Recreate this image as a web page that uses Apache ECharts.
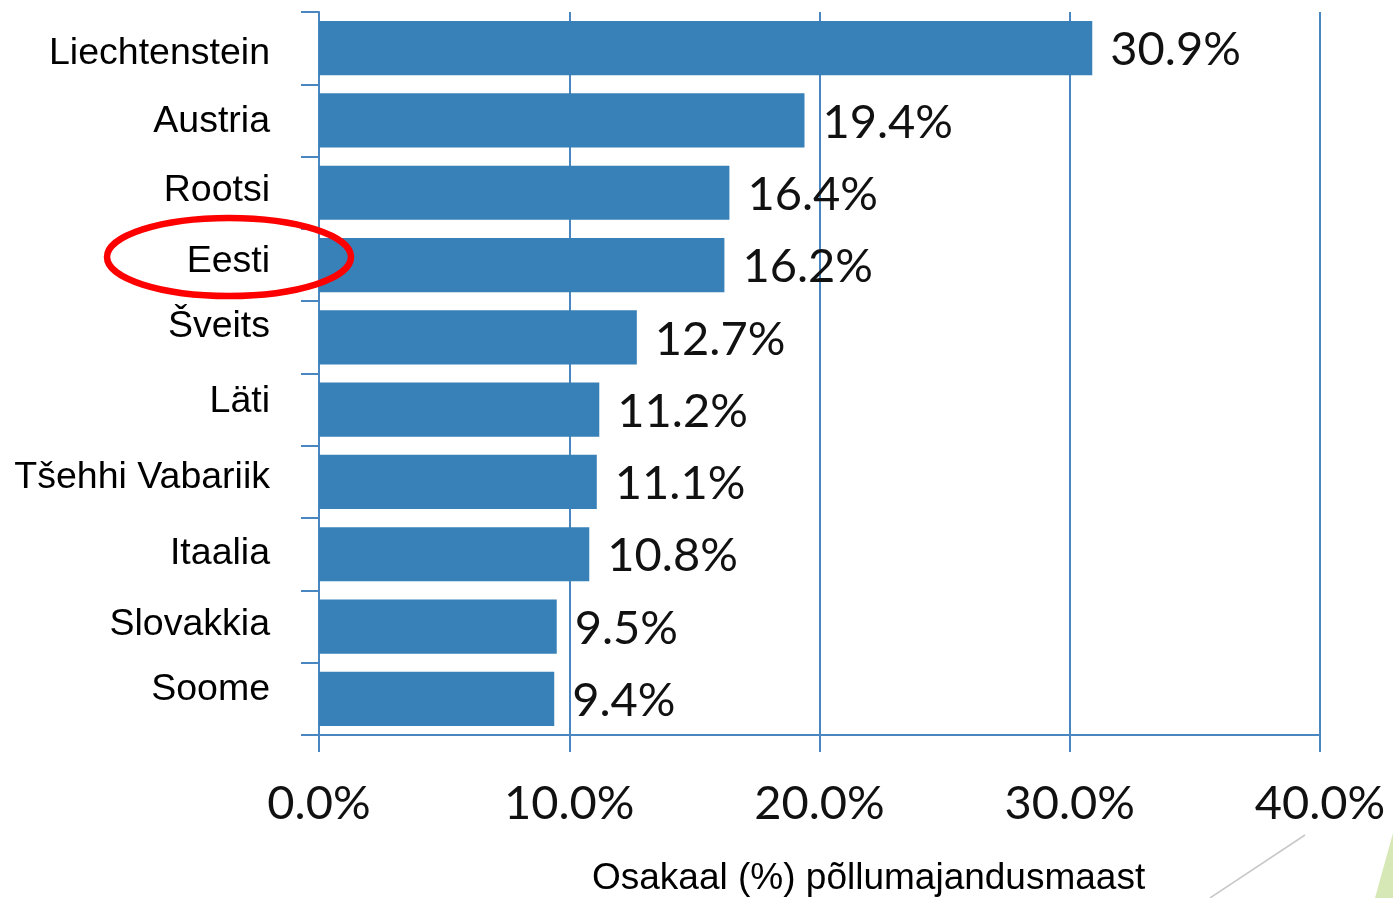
<!DOCTYPE html>
<html>
<head>
<meta charset="utf-8">
<script src="https://cdn.jsdelivr.net/npm/echarts@6/dist/echarts.min.js"></script>
<style>
  html, body { margin: 0; padding: 0; background: #fff; }
  #chart { width: 1393px; height: 898px; }
</style>
</head>
<body>
<div id="chart"></div>
<script>
// data
const countries = ['Liechtenstein', 'Austria', 'Rootsi', 'Eesti', 'Šveits', 'Läti', 'Tšehhi Vabariik', 'Itaalia', 'Slovakkia', 'Soome']
const shares = [30.9, 19.4, 16.4, 16.2, 12.7, 11.2, 11.1, 10.8, 9.5, 9.4]
// small vertical nudges of the country labels (px, negative = up)
const labelShift = [6, 1, -2, -3, -11, -8, -4, -1, -2, -9]
const axisTitle = 'Osakaal (%) põllumajandusmaast'

const blue = '#3780b8'
const lineBlue = '#4a86c0'

const chart = echarts.init(document.getElementById('chart'))

// one rich style per label so each can sit a bit off the band centre
const rich = {}
labelShift.forEach((d, i) => {
  rich['s' + i] = {
    fontFamily: 'Liberation Sans',
    fontSize: 37.5,
    color: '#000',
    padding: d < 0 ? [0, 0, -2 * d, 0] : [2 * d, 0, 0, 0]
  }
})

chart.setOption({
  animation: false,
  grid: { left: 319, right: 73, top: 12, bottom: 163 },
  xAxis: {
    type: 'value',
    min: 0,
    max: 40,
    interval: 10,
    axisLine: { show: true, lineStyle: { color: lineBlue, width: 2 } },
    axisTick: { show: true, length: 17, lineStyle: { color: lineBlue, width: 2 } },
    splitLine: { show: true, lineStyle: { color: lineBlue, width: 2 } },
    axisLabel: {
      formatter: v => v.toFixed(1) + '%',
      fontFamily: 'Lato',
      fontSize: 47,
      color: '#111',
      margin: 45
    }
  },
  yAxis: {
    type: 'category',
    inverse: true,
    data: countries,
    axisLine: { show: true, lineStyle: { color: lineBlue, width: 2 } },
    axisTick: { show: true, length: 18, lineStyle: { color: lineBlue, width: 2 } },
    axisLabel: {
      formatter: (v, i) => '{s' + i + '|' + v + '}',
      rich: rich,
      fontFamily: 'Liberation Sans',
      fontSize: 37.5,
      color: '#000',
      margin: 49
    }
  },
  series: [{
    type: 'bar',
    data: shares,
    barCategoryGap: '25%',
    itemStyle: { color: blue },
    label: {
      show: true,
      position: 'right',
      distance: 18,
      formatter: p => p.value.toFixed(1) + '%',
      fontFamily: 'Lato',
      fontSize: 47,
      color: '#111',
      offset: [0, 2]
    }
  }],
  graphic: [
    {
      type: 'text',
      left: 592,
      top: 860,
      style: { text: axisTitle, font: '37px "Liberation Sans"', fill: '#000' }
    },
    {
      type: 'ellipse',
      z: 100,
      shape: { cx: 229, cy: 257, rx: 122, ry: 39 },
      style: { fill: 'none', stroke: '#f00', lineWidth: 6.5 }
    },
    {
      type: 'line',
      shape: { x1: 1210, y1: 898, x2: 1305, y2: 835 },
      style: { stroke: '#c8c8c8', lineWidth: 1.5 }
    },
    {
      type: 'polygon',
      shape: { points: [[1375, 898], [1393, 833], [1393, 898]] },
      style: { fill: '#d6e8b6' }
    }
  ]
})
</script>
</body>
</html>
